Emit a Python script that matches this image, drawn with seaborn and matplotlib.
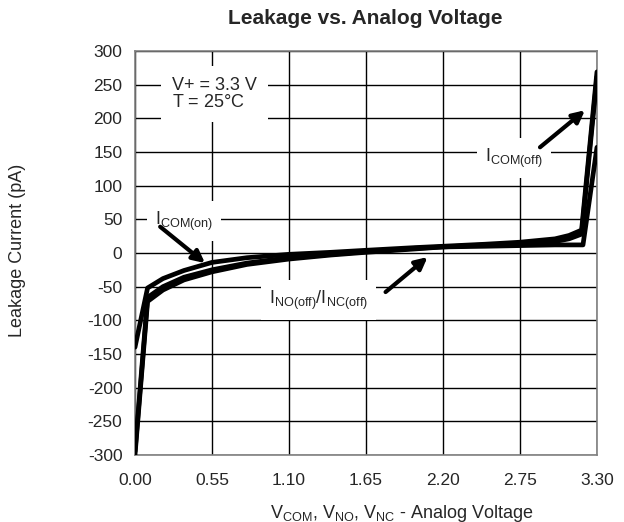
import numpy as np
import pandas as pd
import seaborn as sns
from matplotlib import pyplot as plt

# analog voltage (V) and leakage current (pA)
v_com_on = [0.00, 0.09, 0.20, 0.35, 0.55, 0.80, 1.10, 1.40, 1.65, 2.00, 2.20, 2.50, 2.75, 3.00, 3.10, 3.19, 3.30]
i_com_on = [-140, -52, -38, -26, -14, -7, -2, 1, 4, 8, 10, 13, 16, 21, 26, 34, 269]

v_no_off = [0.00, 0.09, 0.20, 0.35, 0.55, 0.80, 1.10, 1.40, 1.65, 2.00, 2.20, 2.50, 2.75, 3.00, 3.10, 3.20, 3.30]
i_no_off = [-300, -72, -55, -40, -28, -17, -9, -3, 1, 6, 9, 10, 11, 12, 12, 12, 157]

v_nc_off = [0.00, 0.09, 0.20, 0.35, 0.55, 0.80, 1.10, 1.40, 1.65, 2.00, 2.20, 2.50, 2.75, 3.00, 3.10, 3.19, 3.30]
i_nc_off = [-295, -66, -50, -36, -25, -15, -7, -2, 2, 7, 9, 12, 14, 17, 21, 28, 262]

xticks = [0.00, 0.55, 1.10, 1.65, 2.20, 2.75, 3.30]
yticks = list(range(-300, 301, 50))

sns.set_style('white')
plt.rcParams['font.family'] = ['Liberation Sans', 'DejaVu Sans']
plt.rcParams['mathtext.fontset'] = 'custom'
plt.rcParams['mathtext.rm'] = 'Liberation Sans'
plt.rcParams['mathtext.it'] = 'Liberation Sans:italic'
plt.rcParams['axes.unicode_minus'] = False

fig = plt.figure(figsize=(6.24, 5.22), dpi=100)
ax = fig.add_axes([0.2163, 0.1284, 0.7404, 0.7739])

for v, i in [(v_no_off, i_no_off), (v_nc_off, i_nc_off), (v_com_on, i_com_on)]:
    sns.lineplot(x=v, y=i, ax=ax, color='black', lw=3.4, zorder=4, sort=False)

ax.set_xlim(0, 3.3)
ax.set_ylim(-300, 300)
ax.set_xticks(xticks)
ax.set_xticklabels(['%.2f' % t for t in xticks])
ax.set_yticks(yticks)
ax.tick_params(length=0, labelsize=12.5)
ax.tick_params(axis='x', pad=13)
ax.tick_params(axis='y', pad=9)
ax.grid(True, color='black', lw=1, zorder=1)
ax.set_axisbelow(True)
for s in ax.spines.values():
    s.set_color('#808080')
    s.set_linewidth(1.2)

ax.text(0.264, 236, 'V+ = 3.3 V\nT = 25$\\degree$C', fontsize=13, ha='left', va='center',
        linespacing=1.0, bbox=dict(facecolor='white', edgecolor='none', pad=8), zorder=3)

box = dict(facecolor='white', edgecolor='none', pad=6)
arrow = dict(arrowstyle='-|>', color='black', lw=3, mutation_scale=18, shrinkA=0, shrinkB=0)

ax.text(2.707, 141, r'$\mathrm{I_{COM(off)}}$', fontsize=13, ha='center', va='center', bbox=box, zorder=3)
ax.annotate('', xy=(3.214, 212), xytext=(2.893, 157), arrowprops=arrow, zorder=3)

ax.text(0.35, 47, r'$\mathrm{I_{COM(on)}}$', fontsize=13, ha='center', va='center', bbox=box, zorder=3)
ax.annotate('', xy=(0.50, -15), xytext=(0.18, 39), arrowprops=arrow, zorder=5)

ax.text(1.31, -70, r'$\mathrm{I_{NO(off)}/I_{NC(off)}}$', fontsize=13, ha='center', va='center',
        bbox=box, zorder=3)
ax.annotate('', xy=(2.09, -6), xytext=(1.79, -58), arrowprops=arrow, zorder=5)

fig.text(365 / 624, 1 - 19 / 522, 'Leakage vs. Analog Voltage', fontsize=15, fontweight='bold',
         ha='center', va='center')
fig.text(402 / 624, 1 - 513 / 522,
         r'$\mathrm{V_{COM}}$, $\mathrm{V_{NO}}$, $\mathrm{V_{NC}}$ - Analog Voltage',
         fontsize=13, ha='center', va='center')
fig.text(18 / 624, 1 - 250 / 522, 'Leakage Current (pA)', fontsize=13, rotation=90,
         ha='center', va='center')

fig.savefig('out.png', dpi=100)
